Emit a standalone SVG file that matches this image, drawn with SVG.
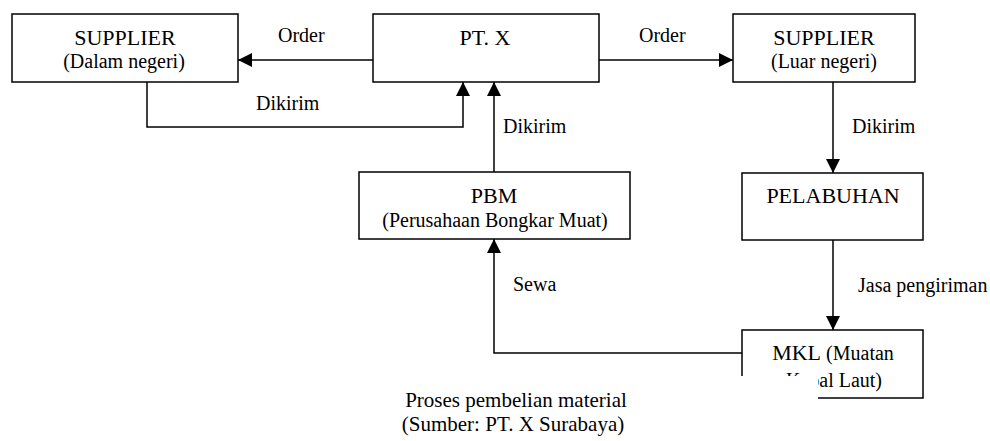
<svg xmlns="http://www.w3.org/2000/svg" width="990" height="441" viewBox="0 0 990 441">
<style>
.box{fill:#fff;stroke:#000;stroke-width:1.5}
.t{font-family:"Liberation Serif","Times New Roman",serif;fill:#000;text-anchor:middle}
.title{font-size:22px}
.sub{font-size:20px}
.lbl{font-family:"Liberation Serif","Times New Roman",serif;fill:#000;font-size:20px}
.c{fill:none;stroke:#000;stroke-width:1.5}
</style>
<defs>
<marker id="arr" markerUnits="userSpaceOnUse" markerWidth="14" markerHeight="14" viewBox="0 0 13 13" refX="13" refY="6.5" orient="auto">
<path d="M0,0 L13,6.5 L0,13 z" fill="#000"/>
</marker>
</defs>
<g id="connectors">
<path class="c" d="M373,60 H238" marker-end="url(#arr)"/>
<path class="c" d="M599,60 H733" marker-end="url(#arr)"/>
<path class="c" d="M147,82 V127 H463 V82" marker-end="url(#arr)"/>
<path class="c" d="M494,172 V82" marker-end="url(#arr)"/>
<path class="c" d="M833,82 V173" marker-end="url(#arr)"/>
<path class="c" d="M833,240 V330" marker-end="url(#arr)"/>
<path class="c" d="M742,353 H494 V239" marker-end="url(#arr)"/>
<text class="lbl" x="278" y="42">Order</text>
<text class="lbl" x="639" y="42">Order</text>
<text class="lbl" x="256" y="110">Dikirim</text>
<text class="lbl" x="503" y="133">Dikirim</text>
<text class="lbl" x="852" y="133">Dikirim</text>
<text class="lbl" x="858" y="292">Jasa pengiriman</text>
<text class="lbl" x="513" y="291">Sewa</text>
</g>
<g id="supplier-dalam">
<rect class="box" x="12" y="14" width="226" height="68"/>
<text class="t title" x="125" y="45">SUPPLIER</text>
<text class="t sub" x="124" y="68">(Dalam negeri)</text>
</g>
<g id="ptx">
<rect class="box" x="373" y="14" width="226" height="68"/>
<text class="t title" x="485" y="45">PT. X</text>
</g>
<g id="supplier-luar">
<rect class="box" x="733" y="14" width="182" height="68"/>
<text class="t title" x="824" y="45">SUPPLIER</text>
<text class="t sub" x="824" y="68">(Luar negeri)</text>
</g>
<g id="pbm">
<rect class="box" x="359" y="172" width="271" height="67"/>
<text class="t title" x="494" y="203">PBM</text>
<text class="t sub" x="495" y="227">(Perusahaan Bongkar Muat)</text>
</g>
<g id="pelabuhan">
<rect class="box" x="742" y="173" width="181" height="67"/>
<text class="t title" x="833" y="203">PELABUHAN</text>
</g>
<g id="mkl">
<rect class="box" x="742" y="330" width="181" height="68"/>
<text class="t" x="833" y="360"><tspan font-size="22px">MKL</tspan><tspan font-size="20px"> (Muatan</tspan></text>
<text class="t sub" x="834" y="387">Kapal Laut)</text>
</g>
<g id="caption">
<rect x="390" y="376" width="428" height="65" fill="#fff"/>
<text class="t" font-size="21px" x="516" y="407">Proses pembelian material</text>
<text class="t" font-size="21px" x="513" y="431">(Sumber: PT. X Surabaya)</text>
</g>
</svg>
